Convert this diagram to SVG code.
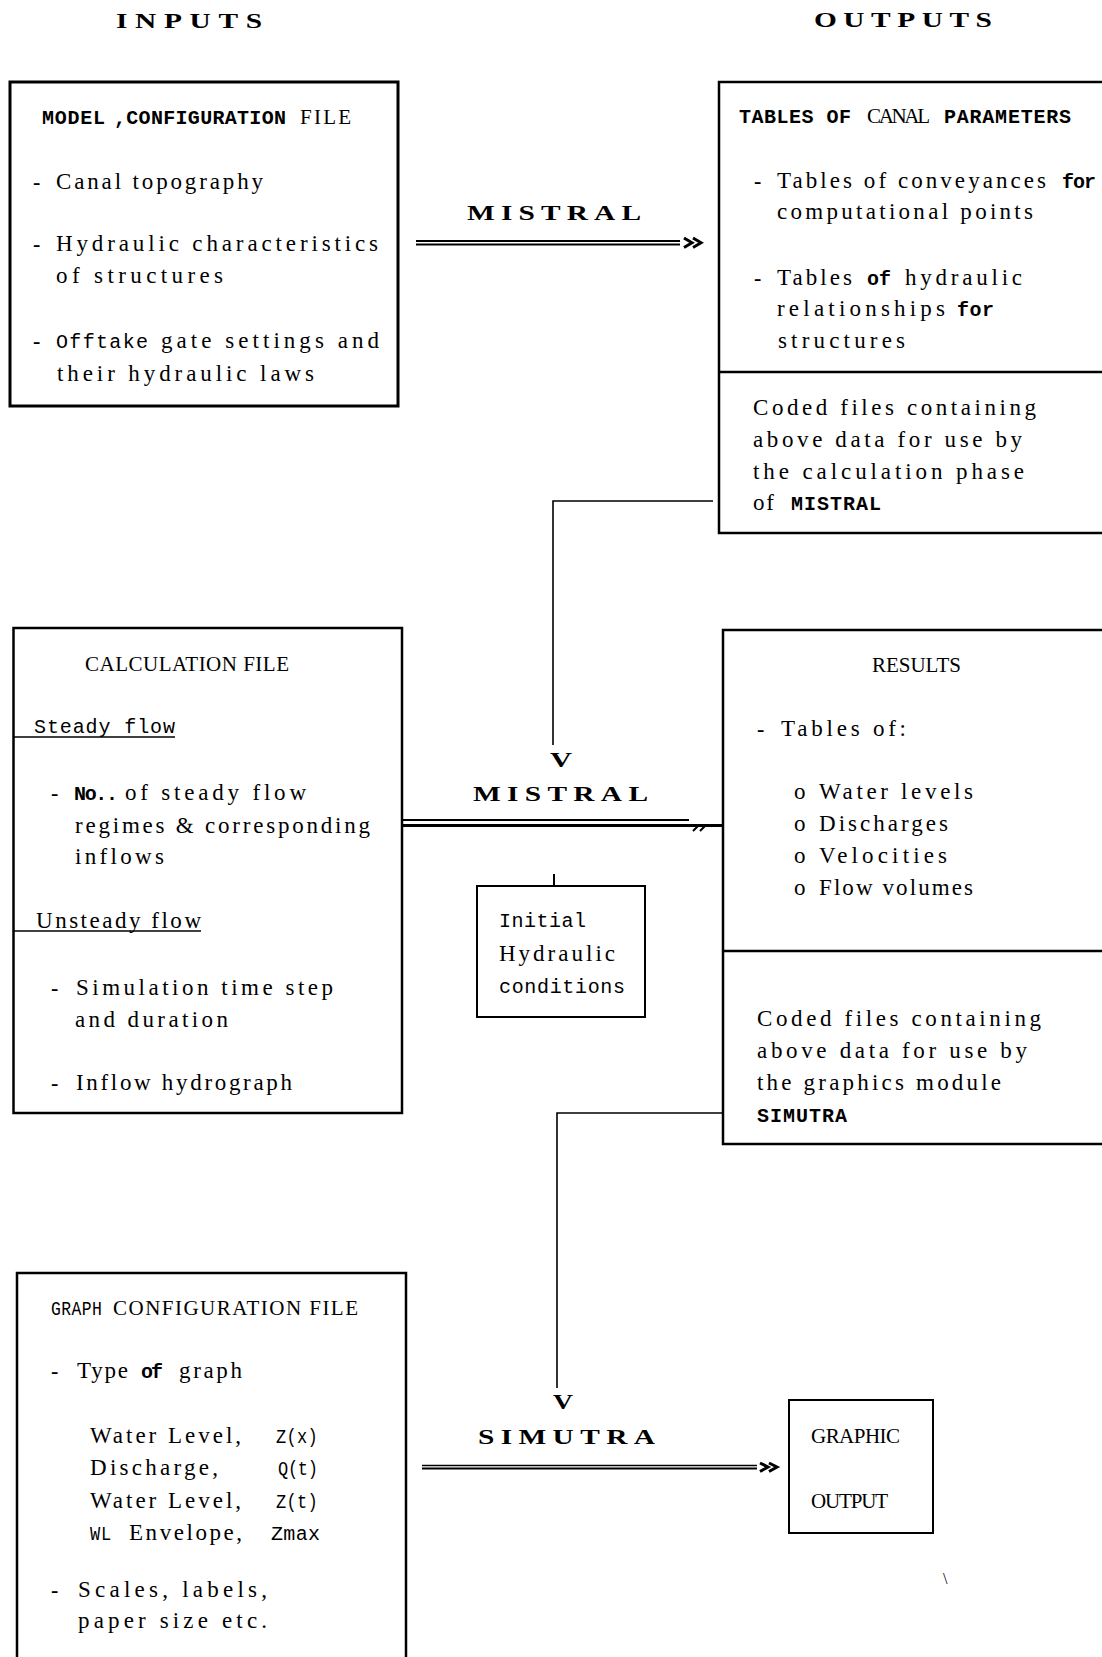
<svg xmlns="http://www.w3.org/2000/svg" width="1102" height="1657" viewBox="0 0 1102 1657">
<style>
text{fill:#000}
.s{font-family:"Liberation Serif","Times New Roman",serif;font-size:23px}
.c{font-family:"Liberation Serif","Times New Roman",serif;font-size:21px}
.m{font-family:"Liberation Mono","Courier New",monospace;font-size:20px}
.mb{font-family:"Liberation Mono","Courier New",monospace;font-size:20px;font-weight:bold}
.h{font-family:"Liberation Serif","Times New Roman",serif;font-size:21px;font-weight:bold}
.d{font-family:"Liberation Serif","Times New Roman",serif;font-size:22px;font-weight:bold}
.box{fill:none;stroke:#000;stroke-width:2.5}
.thin{fill:none;stroke:#000;stroke-width:2}
.ln{fill:none;stroke:#000;stroke-width:1.6}
</style>
<rect width="1102" height="1657" fill="#fff"/>

<g id="headers">
<text class="h" transform="translate(116,28) scale(1.4,1)" textLength="104.3" lengthAdjust="spacing">INPUTS</text>
<text class="h" transform="translate(814,27) scale(1.4,1)" textLength="127.1" lengthAdjust="spacing">OUTPUTS</text>
</g>

<g id="model-config">
<rect class="box" x="10" y="82" width="388" height="324" style="stroke-width:3"/>
<text class="mb" x="42" y="124" textLength="63" lengthAdjust="spacing">MODEL</text>
<text class="mb" x="114" y="124" textLength="172" lengthAdjust="spacing">,CONFIGURATION</text>
<text class="c" x="300" y="124" textLength="51" lengthAdjust="spacing">FILE</text>
<text class="d" x="33" y="189">-</text>
<text class="s" x="56" y="189" textLength="207" lengthAdjust="spacing">Canal topography</text>
<text class="d" x="33" y="251">-</text>
<text class="s" x="56" y="251" textLength="322" lengthAdjust="spacing">Hydraulic characteristics</text>
<text class="s" x="56" y="283" textLength="167" lengthAdjust="spacing">of structures</text>
<text class="d" x="33" y="348">-</text>
<text class="m" x="56" y="348" textLength="92" lengthAdjust="spacing">Offtake</text>
<text class="s" x="161" y="348" textLength="218" lengthAdjust="spacing">gate settings and</text>
<text class="s" x="57" y="381" textLength="257" lengthAdjust="spacing">their hydraulic laws</text>
</g>

<g id="canal-parameters">
<rect class="box" x="719" y="82" width="400" height="451"/>
<line class="box" x1="719" y1="372" x2="1102" y2="372"/>
<text class="mb" x="739" y="123" textLength="112" lengthAdjust="spacing">TABLES OF</text>
<text class="c" x="867" y="123" textLength="63" lengthAdjust="spacing">CANAL</text>
<text class="mb" x="944" y="123" textLength="127" lengthAdjust="spacing">PARAMETERS</text>
<text class="d" x="754" y="188">-</text>
<text class="s" x="777" y="188" textLength="269" lengthAdjust="spacing">Tables of conveyances</text>
<text class="mb" x="1062" y="188" textLength="34" lengthAdjust="spacing">for</text>
<text class="s" x="777" y="219" textLength="256" lengthAdjust="spacing">computational points</text>
<text class="d" x="754" y="285">-</text>
<text class="s" x="777" y="285" textLength="75" lengthAdjust="spacing">Tables</text>
<text class="mb" x="867" y="285" textLength="24" lengthAdjust="spacing">of</text>
<text class="s" x="905" y="285" textLength="117" lengthAdjust="spacing">hydraulic</text>
<text class="s" x="777" y="316" textLength="168" lengthAdjust="spacing">relationships</text>
<text class="mb" x="957" y="316" textLength="37" lengthAdjust="spacing">for</text>
<text class="s" x="778" y="348" textLength="127" lengthAdjust="spacing">structures</text>
<text class="s" x="753" y="415" textLength="283" lengthAdjust="spacing">Coded files containing</text>
<text class="s" x="753" y="447" textLength="269" lengthAdjust="spacing">above data for use by</text>
<text class="s" x="753" y="479" textLength="271" lengthAdjust="spacing">the calculation phase</text>
<text class="s" x="753" y="510" textLength="21" lengthAdjust="spacing">of</text>
<text class="mb" x="791" y="510" textLength="90" lengthAdjust="spacing">MISTRAL</text>
</g>

<g id="calculation-file">
<rect class="box" x="13.5" y="628" width="388.5" height="485"/>
<text class="c" x="85" y="671" textLength="204" lengthAdjust="spacing">CALCULATION FILE</text>
<text class="m" x="34" y="733" textLength="141" lengthAdjust="spacing">Steady flow</text>
<line class="ln" x1="13" y1="737" x2="175" y2="737"/>
<text class="d" x="51" y="800">-</text>
<text class="mb" x="74" y="800" textLength="44" lengthAdjust="spacing">No..</text>
<text class="s" x="125" y="800" textLength="181" lengthAdjust="spacing">of steady flow</text>
<text class="s" x="75" y="833" textLength="295" lengthAdjust="spacing">regimes &amp; corresponding</text>
<text class="s" x="75" y="864" textLength="89" lengthAdjust="spacing">inflows</text>
<text class="s" x="36" y="928" textLength="165" lengthAdjust="spacing">Unsteady flow</text>
<line class="ln" x1="13" y1="931" x2="201" y2="931"/>
<text class="d" x="51" y="995">-</text>
<text class="s" x="76" y="995" textLength="257" lengthAdjust="spacing">Simulation time step</text>
<text class="s" x="75" y="1027" textLength="153" lengthAdjust="spacing">and duration</text>
<text class="d" x="51" y="1090">-</text>
<text class="s" x="76" y="1090" textLength="216" lengthAdjust="spacing">Inflow hydrograph</text>
</g>

<g id="initial-conditions">
<rect class="thin" x="477" y="886" width="168" height="131"/>
<text class="m" x="499" y="927" textLength="87" lengthAdjust="spacing">Initial</text>
<text class="s" x="499" y="961" textLength="116" lengthAdjust="spacing">Hydraulic</text>
<text class="m" x="499" y="993" textLength="126" lengthAdjust="spacing">conditions</text>
</g>

<g id="results">
<rect class="box" x="723" y="630" width="400" height="514"/>
<line class="box" x1="723" y1="951" x2="1102" y2="951"/>
<text class="c" x="872" y="672" textLength="89" lengthAdjust="spacing">RESULTS</text>
<text class="d" x="757" y="736">-</text>
<text class="s" x="781" y="736" textLength="125" lengthAdjust="spacing">Tables of:</text>
<text class="s" x="794" y="799">o</text>
<text class="s" x="819" y="799" textLength="154" lengthAdjust="spacing">Water levels</text>
<text class="s" x="794" y="831">o</text>
<text class="s" x="819" y="831" textLength="129" lengthAdjust="spacing">Discharges</text>
<text class="s" x="794" y="863">o</text>
<text class="s" x="819" y="863" textLength="128" lengthAdjust="spacing">Velocities</text>
<text class="s" x="794" y="895">o</text>
<text class="s" x="819" y="895" textLength="154" lengthAdjust="spacing">Flow volumes</text>
<text class="s" x="757" y="1026" textLength="284" lengthAdjust="spacing">Coded files containing</text>
<text class="s" x="757" y="1058" textLength="270" lengthAdjust="spacing">above data for use by</text>
<text class="s" x="757" y="1090" textLength="244" lengthAdjust="spacing">the graphics module</text>
<text class="mb" x="757" y="1122" textLength="90" lengthAdjust="spacing">SIMUTRA</text>
</g>

<g id="graph-config">
<rect class="box" x="17" y="1273" width="389" height="400"/>
<text class="m" transform="translate(51,1315) scale(0.82,1)" textLength="62" lengthAdjust="spacing">GRAPH</text>
<text class="c" x="113" y="1315" textLength="245" lengthAdjust="spacing">CONFIGURATION FILE</text>
<text class="d" x="51" y="1378">-</text>
<text class="s" x="77" y="1378" textLength="51" lengthAdjust="spacing">Type</text>
<text class="mb" x="141" y="1378" textLength="22" lengthAdjust="spacing">of</text>
<text class="s" x="179" y="1378" textLength="63" lengthAdjust="spacing">graph</text>
<text class="s" x="90" y="1443" textLength="151" lengthAdjust="spacing">Water Level,</text>
<text class="m" transform="translate(276,1443) scale(0.85,1)" textLength="49" lengthAdjust="spacing">Z(x)</text>
<text class="s" x="90" y="1475" textLength="128" lengthAdjust="spacing">Discharge,</text>
<text class="m" transform="translate(278,1475) scale(0.85,1)" textLength="47" lengthAdjust="spacing">Q(t)</text>
<text class="s" x="90" y="1508" textLength="151" lengthAdjust="spacing">Water Level,</text>
<text class="m" transform="translate(276,1508) scale(0.85,1)" textLength="49" lengthAdjust="spacing">Z(t)</text>
<text class="m" transform="translate(90,1540) scale(0.85,1)" textLength="25" lengthAdjust="spacing">WL</text>
<text class="s" x="129" y="1540" textLength="113" lengthAdjust="spacing">Envelope,</text>
<text class="m" x="271" y="1540" textLength="49" lengthAdjust="spacing">Zmax</text>
<text class="d" x="51" y="1597">-</text>
<text class="s" x="78" y="1597" textLength="189" lengthAdjust="spacing">Scales, labels,</text>
<text class="s" x="78" y="1628" textLength="189" lengthAdjust="spacing">paper size etc.</text>
</g>

<g id="graphic-output">
<rect class="thin" x="789" y="1400" width="144" height="133"/>
<text class="c" x="811" y="1443" textLength="89" lengthAdjust="spacing">GRAPHIC</text>
<text class="c" x="811" y="1508" textLength="77" lengthAdjust="spacing">OUTPUT</text>
</g>

<g id="connectors">
<line class="thin" x1="416" y1="241" x2="680" y2="241"/>
<line class="thin" x1="416" y1="244.5" x2="680" y2="244.5"/>
<path d="M684,238 L692,242.8 L684,247.5 M693,238 L701,242.8 L693,247.5" fill="none" stroke="#000" stroke-width="3"/>
<text class="h" transform="translate(467,220) scale(1.4,1)" textLength="124.3" lengthAdjust="spacing">MISTRAL</text>
<polyline class="ln" points="713,501 553,501 553,745"/>
<text class="h" x="550" y="767" textLength="22" lengthAdjust="spacingAndGlyphs">V</text>
<text class="h" transform="translate(473,801) scale(1.4,1)" textLength="125" lengthAdjust="spacing">MISTRAL</text>
<line class="thin" x1="402" y1="820" x2="689" y2="820"/>
<line x1="402" y1="825.5" x2="723" y2="825.5" stroke="#000" stroke-width="3"/>
<path d="M693,831 L698,826 M700,831 L705,826" fill="none" stroke="#000" stroke-width="2"/>
<line class="thin" x1="554" y1="874" x2="554" y2="886"/>
<polyline class="ln" points="723,1113 557,1113 557,1388"/>
<text class="h" x="553" y="1409" textLength="20" lengthAdjust="spacingAndGlyphs">V</text>
<text class="h" transform="translate(478,1444) scale(1.4,1)" textLength="126.4" lengthAdjust="spacing">SIMUTRA</text>
<line class="ln" x1="422" y1="1465.5" x2="757" y2="1465.5"/>
<line class="thin" x1="422" y1="1468.5" x2="757" y2="1468.5"/>
<path d="M760,1463 L768,1467 L760,1471.5 M769,1463 L777,1467 L769,1471.5" fill="none" stroke="#000" stroke-width="3"/>
</g>

<text class="s" x="943" y="1584" style="font-size:16px">\</text>
</svg>
